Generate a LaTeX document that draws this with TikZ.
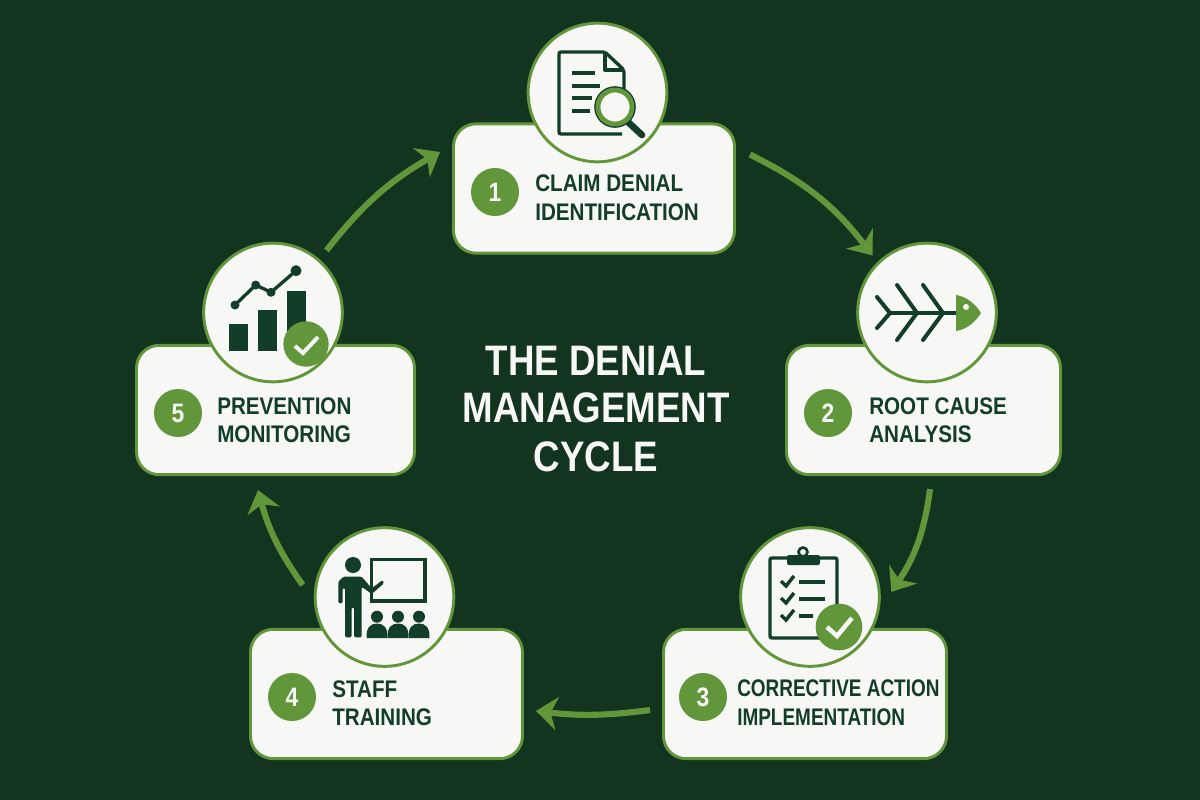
\documentclass[tikz,border=0pt]{standalone}
\usepackage{fontspec}
\setmainfont{Liberation Sans}
\newfontfamily\labelfont[FakeStretch=0.86]{Liberation Sans Bold}
\newfontfamily\narrowfont[FakeStretch=0.79]{Liberation Sans Bold}
\usetikzlibrary{arrows.meta,positioning}
\definecolor{bgdark}{HTML}{13351F}
\definecolor{leaf}{HTML}{62963A}
\definecolor{ink}{HTML}{123D28}
\definecolor{paper}{HTML}{F7F7F5}

\begin{document}
\begin{tikzpicture}[x=0.75pt,y=-0.75pt,
      cardbox/.style={draw=leaf,fill=paper,line width=2.2pt,rounded corners=17pt,inner sep=0pt,minimum height=97pt},
      iconring/.style={circle,draw=leaf,fill=paper,line width=2.2pt,inner sep=0pt,minimum size=104pt},
      numbadge/.style={circle,fill=leaf,text=paper,inner sep=0pt,minimum size=36pt,font={\labelfont\fontsize{20}{24}\selectfont}},
      checkbadge/.style={circle,fill=leaf,inner sep=0pt,minimum size=35pt},
      cardtext/.style={anchor=west,inner sep=0pt,align=left,text=ink,font={\labelfont\fontsize{18}{21.4}\selectfont}},
      titleline/.style={inner sep=0pt,align=center,text=paper,font={\labelfont\fontsize{32}{36}\selectfont}},
      cyclearrow/.style={draw=leaf,line width=4.6pt,-{Stealth[length=16pt,width=25pt,inset=5pt]}},
      inkline/.style={draw=ink,line width=2.5pt},
      tick/.style={draw=paper,line width=3.4pt}]
      \useasboundingbox (0,0) rectangle (1200,800);
      \fill[bgdark] (0,0) rectangle (1200,800);
      %draw cards
      \foreach \name/\cx/\cy/\w in {card1/594/188.5/281, card2/923.5/410/274, card3/805/694/283, card4/386.5/694/272, card5/275.5/410/278}{
        \node[cardbox,minimum width=\w*0.75pt] (\name) at (\cx,\cy) {};
      }
      %draw icon circles
      \foreach \name/\cx/\cy in {icon1/597.5/92.5, icon2/927/312.5, icon3/810/597, icon4/384.5/597, icon5/273/312.5}{
        \node[iconring] (\name) at (\cx,\cy) {};
      }
      %draw number badges
      \foreach \n/\cx/\cy in {1/495/192, 2/828/413, 3/703/697, 4/292/697, 5/178/413}{
        \node[numbadge] (badge\n) at (\cx,\cy) {\n};
      }
      %draw nodes
      \draw (535,197.5) node[cardtext] (text1) {CLAIM DENIAL\\IDENTIFICATION};
      \draw (869,420) node[cardtext] (text2) {ROOT CAUSE\\ANALYSIS};
      \draw (737,702.5) node[cardtext,font={\narrowfont\fontsize{18}{21.4}\selectfont}] (text3) {CORRECTIVE ACTION\\IMPLEMENTATION};
      \draw (332,703) node[cardtext] (text4) {STAFF\\TRAINING};
      \draw (217,420) node[cardtext] (text5) {PREVENTION\\MONITORING};
      \draw (596,361) node[titleline] (title1) {THE DENIAL};
      \draw (596,408) node[titleline] (title2) {MANAGEMENT};
      \draw (596,457) node[titleline] (title3) {CYCLE};
      %draw connectors
      \draw[cyclearrow] ([shift={(14,-34)}]card1.east) to[bend left=13] ([shift={(-4.4,-7)}]icon2.135);
      \draw[cyclearrow] ([shift={(6.5,13)}]card2.south) to[bend left=13] ([shift={(10.5,-5)}]icon3.east);
      \draw[cyclearrow] ([shift={(-12,16)}]card3.west) to[bend left=7] ([shift={(12,17)}]card4.east);
      \draw[cyclearrow] ([shift={(-11,-12)}]icon4.west) to[bend left=10] ([shift={(-17.5,14)}]card5.south);
      \draw[cyclearrow] ([shift={(3.4,-12)}]icon5.north east) to[bend left=11] ([shift={(-12,-36.5)}]card1.west);
      %draw document and magnifier
      \draw[inkline,rounded corners=1.5pt] (622,134) -- (559,134) -- (559,52) -- (605,52) -- (624,70) -- (624,90);
      \draw[inkline,line join=round] (605,52) -- (605,70) -- (624,70);
      \foreach \y/\xe in {73/595, 86/600, 98/592, 111/590}{
        \draw[inkline] (572,\y) -- (\xe,\y);
      }
      \draw[ink,line width=5pt,line cap=round] (628,122) -- (642,135);
      \draw[fill=paper,draw=ink,line width=1.2pt] (615,107) circle (20);
      \draw[draw=leaf,line width=3.6pt] (615,107) circle (17);
      %draw fish bones
      \draw[inkline] (890,313) -- (957,313);
      \draw[inkline,line width=3pt,line cap=round] (877,297) -- (890,313) -- (877,328);
      \foreach \x in {0,26}{
        \draw[inkline,line width=3pt,line cap=round] (897+\x,285) -- (917+\x,313) -- (897+\x,340);
      }
      \fill[leaf] (956,295) .. controls (968,297) and (976,305) .. (981,313) .. controls (976,321) and (968,329) .. (956,331) -- cycle;
      \fill[paper] (966,307) circle (3);
      %draw clipboard
      \draw[inkline,fill=paper,rounded corners=1.5pt] (770,558) rectangle (837,638);
      \fill[ink,rounded corners=1.5pt] (787,555) rectangle (820,565);
      \draw[inkline,line width=2pt,fill=paper] (803,552) circle (4.5);
      \foreach \y/\xe in {0/825, 17/825, 34/813}{
        \draw[inkline,line width=2.6pt] (781,581+\y) -- (786,586+\y) -- (794,576+\y);
        \draw[inkline] (799,582+\y) -- (\xe,582+\y);
      }
      \node[checkbadge] (check3) at (839,627) {};
      \draw[tick] ([shift={(-12,0)}]check3.center) -- ([shift={(-2,9)}]check3.center) -- ([shift={(13,-9)}]check3.center);
      %draw teacher and class
      \draw[inkline] (371.7,559.3) rectangle (425,601);
      \fill[ink] (353,565) circle (8);
      \fill[ink,rounded corners=1pt] (343.3,576.7) -- (361.7,576.7) -- (371.7,588.3) -- (382.7,580) -- (384,583.3) -- (371.7,594) -- (361.7,586.7) -- (361.7,637.3) -- (354,637.3) -- (354,607.3) -- (351.7,607.3) -- (351.7,637.3) -- (345,637.3) -- (345,588) -- (342.7,588) -- (342.7,603.3) -- (338.3,603.3) -- (338.3,581.7) -- cycle;
      \foreach \x in {377,398,419}{
        \fill[ink] (\x,616.7) circle (6);
        \fill[ink] (\x-10.5,638) .. controls (\x-11,627) and (\x-6,623.5) .. (\x,623.5) .. controls (\x+6,623.5) and (\x+11,627) .. (\x+10.5,638) -- cycle;
      }
      %draw bars and trend
      \fill[ink] (229.3,324) rectangle (248.3,351);
      \fill[ink] (257.7,310) rectangle (276.7,351);
      \fill[ink] (287.3,291) rectangle (305.7,345);
      \draw[inkline] (235,305) -- (255.7,285) -- (271,292.3) -- (296,270.7);
      \foreach \x/\y/\r in {235/305/4.5, 255.7/285/4.5, 271/292.3/4.5, 296/270.7/5.5}{
        \fill[ink] (\x,\y) circle (\r);
      }
      \node[checkbadge,minimum size=34pt] (check5) at (306,344) {};
      \draw[tick,line width=3pt] ([shift={(-11,2)}]check5.center) -- ([shift={(-3,9)}]check5.center) -- ([shift={(12,-7)}]check5.center);
    \end{tikzpicture}
\end{document}
